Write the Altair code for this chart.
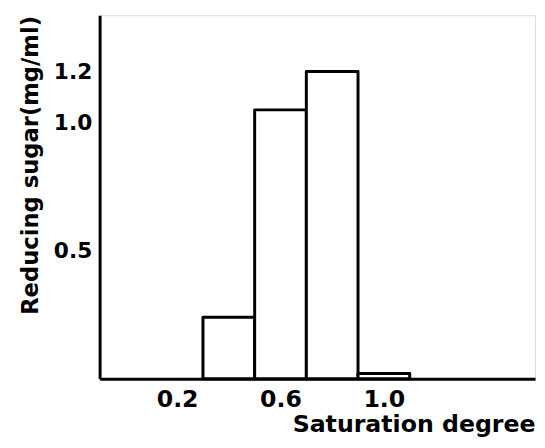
import altair as alt
import pandas as pd

bin_start = [0.3, 0.5, 0.7, 0.9]
bin_end = [0.5, 0.7, 0.9, 1.1]
sugar = [0.24, 1.05, 1.2, 0.02]
x_ticks = [0.2, 0.6, 1.0]
y_ticks = [0.5, 1.0, 1.2]

df = pd.DataFrame({"start": bin_start, "end": bin_end, "sugar": sugar})

FONT = "DejaVu Sans"

chart = alt.Chart(df).mark_rect(
    fill="white", stroke="black", strokeWidth=3, strokeJoin="round"
).encode(
    x=alt.X(
        "start:Q",
        scale=alt.Scale(domain=[-0.1, 1.585], nice=False, zero=False),
        axis=alt.Axis(
            values=x_ticks, format=".1f", ticks=False, grid=False,
            domainColor="black", domainWidth=3,
            labelFont=FONT, labelFontSize=24, labelFontWeight="bold",
            labelColor="black", labelPadding=9,
            title="Saturation degree", titleFont=FONT, titleFontSize=24,
            titleFontWeight="bold", titleColor="black",
            titleAnchor="end", titleAlign="right", titleX=442, titleY=54,
            titleBaseline="alphabetic",
        ),
    ),
    x2="end:Q",
    y=alt.Y(
        "sugar:Q",
        scale=alt.Scale(domain=[0, 1.42], nice=False),
        axis=alt.Axis(
            values=y_ticks, format=".1f", ticks=False, grid=False,
            domainColor="black", domainWidth=3,
            labelFont=FONT, labelFontSize=22, labelFontWeight="bold",
            labelColor="black", labelPadding=8,
            title="Reducing sugar(mg/ml)", titleFont=FONT, titleFontSize=23,
            titleFontWeight="bold", titleColor="black",
            titleAngle=-90, titleAlign="center", titleBaseline="middle",
            titleX=-70, titleY=152,
        ),
    ),
    y2=alt.datum(0),
).properties(
    width=442,
    height=369,
    autosize=alt.AutoSizeParams(type="none"),
    padding={"left": 93, "top": 4, "right": 2, "bottom": 60},
).configure_view(stroke=None).configure(background="white")

chart.save("out.html", embed_options={"renderer": "svg", "actions": False})
